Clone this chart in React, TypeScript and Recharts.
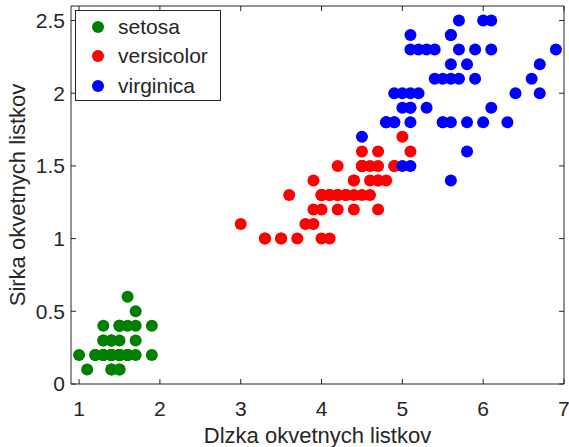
import React from 'react';
import { ScatterChart, Scatter, XAxis, YAxis, Label } from 'recharts';

const setosaLength = [1.4, 1.4, 1.3, 1.5, 1.4, 1.7, 1.4, 1.5, 1.4, 1.5, 1.5, 1.6, 1.4, 1.1, 1.2, 1.5, 1.3, 1.4, 1.7, 1.5, 1.7, 1.5, 1.0, 1.7, 1.9, 1.6, 1.6, 1.5, 1.4, 1.6, 1.6, 1.5, 1.5, 1.4, 1.5, 1.2, 1.3, 1.4, 1.3, 1.5, 1.3, 1.3, 1.3, 1.6, 1.9, 1.4, 1.6, 1.4, 1.5, 1.4];
const setosaWidth = [0.2, 0.2, 0.2, 0.2, 0.2, 0.4, 0.3, 0.2, 0.2, 0.1, 0.2, 0.2, 0.1, 0.1, 0.2, 0.4, 0.4, 0.3, 0.3, 0.3, 0.2, 0.4, 0.2, 0.5, 0.2, 0.2, 0.4, 0.2, 0.2, 0.2, 0.2, 0.4, 0.1, 0.2, 0.2, 0.2, 0.2, 0.1, 0.2, 0.2, 0.3, 0.3, 0.2, 0.6, 0.4, 0.3, 0.2, 0.2, 0.2, 0.2];

const versicolorLength = [4.7, 4.5, 4.9, 4.0, 4.6, 4.5, 4.7, 3.3, 4.6, 3.9, 3.5, 4.2, 4.0, 4.7, 3.6, 4.4, 4.5, 4.1, 4.5, 3.9, 4.8, 4.0, 4.9, 4.7, 4.3, 4.4, 4.8, 5.0, 4.5, 3.5, 3.8, 3.7, 3.9, 5.1, 4.5, 4.5, 4.7, 4.4, 4.1, 4.0, 4.4, 4.6, 4.0, 3.3, 4.2, 4.2, 4.2, 4.3, 3.0, 4.1];
const versicolorWidth = [1.4, 1.5, 1.5, 1.3, 1.5, 1.3, 1.6, 1.0, 1.3, 1.4, 1.0, 1.5, 1.0, 1.4, 1.3, 1.4, 1.5, 1.0, 1.5, 1.1, 1.8, 1.3, 1.5, 1.2, 1.3, 1.4, 1.4, 1.7, 1.5, 1.0, 1.1, 1.0, 1.2, 1.6, 1.5, 1.6, 1.5, 1.3, 1.3, 1.3, 1.2, 1.4, 1.2, 1.0, 1.3, 1.2, 1.3, 1.3, 1.1, 1.3];

const virginicaLength = [6.0, 5.1, 5.9, 5.6, 5.8, 6.6, 4.5, 6.3, 5.8, 6.1, 5.1, 5.3, 5.5, 5.0, 5.1, 5.3, 5.5, 6.7, 6.9, 5.0, 5.7, 4.9, 6.7, 4.9, 5.7, 6.0, 4.8, 4.9, 5.6, 5.8, 6.1, 6.4, 5.6, 5.1, 5.6, 6.1, 5.6, 5.5, 4.8, 5.4, 5.6, 5.1, 5.1, 5.9, 5.7, 5.2, 5.0, 5.2, 5.4, 5.1];
const virginicaWidth = [2.5, 1.9, 2.1, 1.8, 2.2, 2.1, 1.7, 1.8, 1.8, 2.5, 2.0, 1.9, 2.1, 2.0, 2.4, 2.3, 1.8, 2.2, 2.3, 1.5, 2.3, 2.0, 2.0, 1.8, 2.1, 1.8, 1.8, 1.8, 2.1, 1.6, 1.9, 2.0, 2.2, 1.5, 1.4, 2.3, 2.4, 1.8, 1.8, 2.1, 2.4, 2.3, 1.9, 2.3, 2.5, 2.3, 1.9, 2.0, 2.3, 1.8];

const xDomain = [0.9, 7];
const yDomain = [0, 2.6];
const xTicks = [1, 2, 3, 4, 5, 6, 7];
const yTicks = [0, 0.5, 1, 1.5, 2, 2.5];

const toPoints = (xs: number[], ys: number[]) => xs.map((x, i) => ({ x, y: ys[i] }));

const series = [
  { name: 'setosa', color: '#008000', data: toPoints(setosaLength, setosaWidth) },
  { name: 'versicolor', color: '#ff0000', data: toPoints(versicolorLength, versicolorWidth) },
  { name: 'virginica', color: '#0000ff', data: toPoints(virginicaLength, virginicaWidth) },
];

const FONT = '"Liberation Sans", Arial, Helvetica, sans-serif';
const INK = '#262626';

// chart size and plot box (margin + axis sizes below)
const W = 569;
const H = 447;
const MARGIN = { top: 6, right: 5, bottom: 0, left: 0 };
const Y_AXIS_W = 71;
const X_AXIS_H = 63;
const plotLeft = MARGIN.left + Y_AXIS_W;
const plotRight = W - MARGIN.right;
const plotTop = MARGIN.top;
const plotBottom = H - MARGIN.bottom - X_AXIS_H;

const Dot = (props: any) => <circle cx={props.cx} cy={props.cy} r={6} fill={props.fill} />;

// top and right edges of the box with inward ticks (matlab "box on")
const Frame = () => {
  const sx = (v: number) => plotLeft + ((v - xDomain[0]) / (xDomain[1] - xDomain[0])) * (plotRight - plotLeft);
  const sy = (v: number) => plotBottom - ((v - yDomain[0]) / (yDomain[1] - yDomain[0])) * (plotBottom - plotTop);
  return (
    <svg width={W} height={H} style={{ position: 'absolute', left: 0, top: 0, pointerEvents: 'none' }}>
      <line x1={plotLeft} x2={plotRight} y1={plotTop} y2={plotTop} stroke={INK} />
      <line x1={plotRight} x2={plotRight} y1={plotTop} y2={plotBottom} stroke={INK} />
      {xTicks.map((t) => (
        <line key={`x${t}`} x1={sx(t)} x2={sx(t)} y1={plotTop} y2={plotTop + 5} stroke={INK} />
      ))}
      {yTicks.map((t) => (
        <line key={`y${t}`} x1={plotRight} x2={plotRight - 5} y1={sy(t)} y2={sy(t)} stroke={INK} />
      ))}
    </svg>
  );
};

const LegendBox = () => (
  <div
    style={{
      position: 'absolute',
      left: 75,
      top: 10,
      width: 144,
      height: 88,
      border: `1px solid ${INK}`,
      background: '#fff',
      fontFamily: FONT,
      fontSize: 21,
      color: INK,
      boxSizing: 'content-box',
      paddingTop: 1,
    }}
  >
    {series.map((s) => (
      <div key={s.name} style={{ display: 'flex', alignItems: 'center', height: 29.5 }}>
        <svg width={42} height={20}>
          <circle cx={22} cy={10} r={6} fill={s.color} />
        </svg>
        <span style={{ lineHeight: '20px' }}>{s.name}</span>
      </div>
    ))}
  </div>
);

export default function App() {
  return (
    <div style={{ position: 'absolute', left: 0, top: 0, width: W, height: H, background: '#fff' }}>
      <ScatterChart width={W} height={H} margin={MARGIN}>
        <XAxis
          type="number"
          dataKey="x"
          domain={xDomain}
          ticks={xTicks}
          allowDataOverflow
          height={X_AXIS_H}
          stroke={INK}
          tickSize={-5}
          tickMargin={22}
          tick={{ fill: INK, fontSize: 21, fontFamily: FONT }}
        >
          <Label
            content={(p: any) => {
              const vb = p.viewBox;
              return (
                <text x={vb.x + vb.width / 2} y={vb.y + 59} textAnchor="middle" fill={INK} fontSize={22} fontFamily={FONT}>
                  Dlzka okvetnych listkov
                </text>
              );
            }}
          />
        </XAxis>
        <YAxis
          type="number"
          dataKey="y"
          domain={yDomain}
          ticks={yTicks}
          allowDataOverflow
          width={Y_AXIS_W}
          stroke={INK}
          tickSize={-5}
          tickMargin={11}
          tick={{ fill: INK, fontSize: 21, fontFamily: FONT }}
        >
          <Label
            content={(p: any) => {
              const vb = p.viewBox;
              const cx = vb.x + 17;
              const cy = vb.y + vb.height / 2;
              return (
                <text
                  x={cx}
                  y={cy}
                  transform={`rotate(-90 ${cx} ${cy})`}
                  textAnchor="middle"
                  dominantBaseline="central"
                  fill={INK}
                  fontSize={22}
                  fontFamily={FONT}
                >
                  Sirka okvetnych listkov
                </text>
              );
            }}
          />
        </YAxis>
        {series.map((s) => (
          <Scatter
            key={s.name}
            name={s.name}
            data={s.data}
            fill={s.color}
            shape={Dot}
            isAnimationActive={false}
          />
        ))}
      </ScatterChart>
      <Frame />
      <LegendBox />
    </div>
  );
}
